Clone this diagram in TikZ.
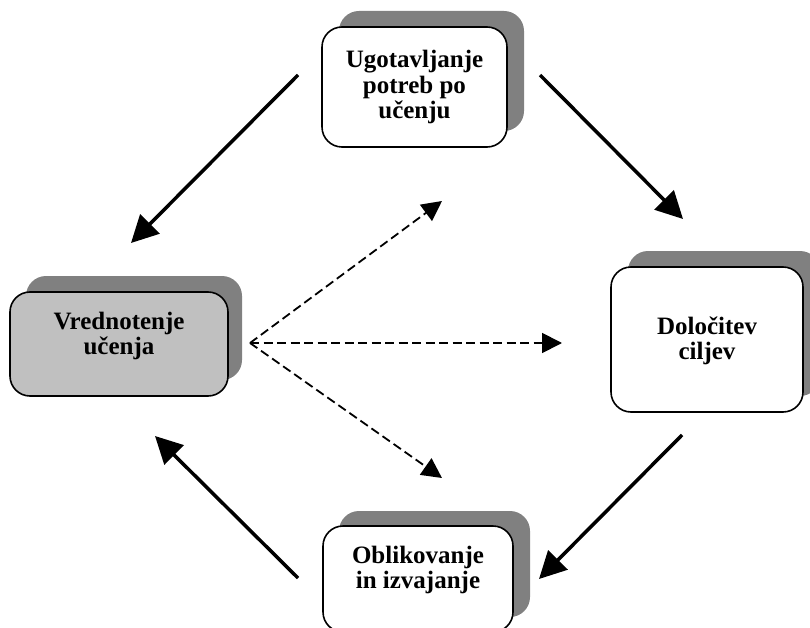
\documentclass[tikz,border=0pt]{standalone}
\usepackage{fontspec}
\setmainfont{Liberation Serif}
\usetikzlibrary{arrows.meta}
\definecolor{shadowgray}{HTML}{808080}
\definecolor{lightgray}{HTML}{C0C0C0}
\tikzset{
  shadowbox/.style={rectangle, rounded corners=20pt, fill=shadowgray, draw=none, anchor=north west, inner sep=0pt, outer sep=0pt},
  frontbox/.style={rectangle, rounded corners=20pt, fill=white, draw=black, line width=1.6pt, anchor=north west, inner sep=0pt, outer sep=0pt},
  label/.style={align=center, inner sep=0pt, font=\fontsize{25pt}{25.5pt}\selectfont\bfseries},
  solidarrow/.style={line width=3.5pt, -{Triangle[length=27pt,width=27pt]}},
  dasharrow/.style={line width=1.8pt, dash pattern=on 9pt off 4.5pt, -{Triangle[length=20pt,width=20pt]}}
}
\begin{document}
\begin{tikzpicture}[x=1pt,y=-1pt]
\useasboundingbox (0,0) rectangle (810,628);
% top box
\node[shadowbox, minimum width=185pt, minimum height=120pt] (topS) at (339,11) {};
\node[frontbox, minimum width=185pt, minimum height=120pt] (topB) at (322,27) {};
\node[label] (topT) at (414.5,87) {Ugotavljanje\\potreb po\\učenju};
% left box
\node[shadowbox, minimum width=216pt, minimum height=104pt] (leftS) at (26,276) {};
\node[frontbox, fill=lightgray, minimum width=218pt, minimum height=104pt] (leftB) at (10,292) {};
\node[label] (leftT) at (119,336) {Vrednotenje\\učenja};
% right box
\node[shadowbox, minimum width=192pt, minimum height=145pt] (rightS) at (628,251) {};
\node[frontbox, minimum width=192pt, minimum height=145pt] (rightB) at (611,267) {};
\node[label] (rightT) at (707,341) {Določitev\\ciljev};
% bottom box
\node[shadowbox, minimum width=191pt, minimum height=106pt] (botS) at (339,511) {};
\node[frontbox, minimum width=190pt, minimum height=106pt] (botB) at (323,526) {};
\node[label] (botT) at (418,570) {Oblikovanje\\in izvajanje};
% arrow end points
\coordinate (a1s) at (298,75);  \coordinate (a1e) at (131,243);
\coordinate (a2s) at (540,75);  \coordinate (a2e) at (683,219);
\coordinate (a3s) at (682,435); \coordinate (a3e) at (539,579);
\coordinate (a4s) at (298,578); \coordinate (a4e) at (155,436);
\coordinate (ds) at (250,343);
\coordinate (d1) at (442,201);
\coordinate (d2) at (562,343);
\coordinate (d3) at (442,478);
% solid cycle arrows
\draw[solidarrow] (a1s) -- (a1e);
\draw[solidarrow] (a2s) -- (a2e);
\draw[solidarrow] (a3s) -- (a3e);
\draw[solidarrow] (a4s) -- (a4e);
% dashed arrows
\draw[dasharrow] (ds) -- (d1);
\draw[dasharrow] (ds) -- (d2);
\draw[dasharrow] (ds) -- (d3);
\end{tikzpicture}
\end{document}
